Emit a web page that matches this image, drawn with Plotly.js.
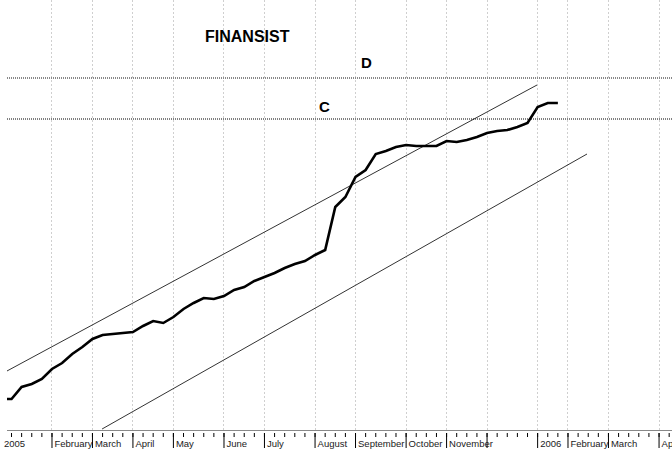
<!DOCTYPE html>
<html>
<head>
<meta charset="utf-8">
<script src="https://cdn.plot.ly/plotly-3.0.1.min.js"></script>
<style>html,body{margin:0;padding:0;background:#fff;}#chart{width:672px;height:451px;}</style>
</head>
<body>
<div id="chart"></div>
<script>
// Weekly index (0 = first week of January 2005)
const weeks = [0,1,2,3,4,5,6,7,8,9,10,11,12,13,14,15,16,17,18,19,20,21,22,23,24,25,26,27,28,29,30,31,32,33,34,35,36,37,38,39,40,41,42,43,44,45,46,47,48,49,50,51,52,53,54,55];
const price = [13.1,13.1,14.3,14.6,15.1,16.1,16.7,17.6,18.3,19.1,19.5,19.6,19.7,19.8,20.4,20.9,20.7,21.3,22.1,22.7,23.2,23.1,23.4,24.0,24.3,24.9,25.3,25.7,26.2,26.6,26.9,27.5,28.0,32.3,33.3,35.3,36.0,37.6,37.9,38.3,38.5,38.4,38.4,38.4,38.9,38.8,39.0,39.3,39.7,39.9,40.0,40.3,40.7,42.3,42.7,42.7];

// Calendar weeks shown on the axis (weekly small ticks)
const axisWeeks = [1,2,3,4,5,6,7,8,9,10,11,12,13,14,15,16,17,18,19,20,21,22,23,24,25,26,27,28,29,30,31,32,33,34,35,36,37,38,39,40,41,42,43,44,45,46,47,48,49,50,51,52,53,54,55,56,57,58,59,60,61,62,63,64,65,66];

// Month ticks (week index of each month start) and labels
const monthWeeks = [5,9,13,17,22,26,31,35,40,44,48,53,56,60,65];
const monthLabels = ['February','March','April','May','June','July','August','September','October','November','','2006','February','March','April'];

// Trend channel lines
const upperX = [0.55, 52.94];
const upperY = [15.9, 44.5];
const lowerX = [9.95, 57.88];
const lowerY = [10.1, 37.6];

// Horizontal levels
const levelNames = ['D','C'];
const levelValues = [45.2, 41.1];
const levelLabelWeeks = [36.1, 31.9];

const xRange = [0.5535, 66.28];
const yRange = [10, 53];

const traces = [
  {x: upperX, y: upperY, mode:'lines', line:{color:'#333', width:1}, hoverinfo:'skip'},
  {x: lowerX, y: lowerY, mode:'lines', line:{color:'#333', width:1}, hoverinfo:'skip'},
  {x: weeks, y: price, mode:'lines', line:{color:'#000', width:2.6}, name:'FINANSIST'},
  {x: weeks.slice(1), y: weeks.slice(1).map(()=>yRange[0]-0.2), mode:'markers', cliponaxis:false,
   marker:{symbol:'square', size:3, color:'#7070ff', line:{width:0}}, hoverinfo:'skip'}
];

const shapes = [];
levelValues.forEach((v,i)=>{
  shapes.push({type:'line', xref:'paper', x0:0, x1:1, yref:'y', y0:v, y1:v,
    line:{color: i===0 ? '#888' : '#000', width: i===0 ? 2 : 1, dash:'1px,1px'}});
});
axisWeeks.forEach(w=>{
  shapes.push({type:'line', xref:'x', x0:w, x1:w, yref:'paper', ysizemode:'pixel', yanchor:0,
    y0:-3, y1:-7, line:{color:'#000', width:1}});
});
monthWeeks.forEach(w=>{
  shapes.push({type:'line', xref:'x', x0:w, x1:w, yref:'paper', ysizemode:'pixel', yanchor:0,
    y0:-3, y1:-18, line:{color:'#000', width:1}});
});

const annotations = [
  {text:'<b>FINANSIST</b>', xref:'paper', yref:'paper', x:0.3617, y:0.9395, showarrow:false,
   font:{family:'Liberation Sans, Arial, sans-serif', size:16, color:'#000'}},
  {text:'2005', xref:'paper', yref:'paper', x:-0.0075, y:0, yanchor:'top', xanchor:'left', yshift:-6, showarrow:false,
   font:{family:'Liberation Sans, Arial, sans-serif', size:9.5, color:'#222'}}
];
levelNames.forEach((n,i)=>{
  annotations.push({text:'<b>'+n+'</b>', xref:'x', yref:'y', x:levelLabelWeeks[i], y:levelValues[i],
    yanchor:'bottom', yshift: i===0 ? 5 : 2, showarrow:false,
    font:{family:'Liberation Sans, Arial, sans-serif', size:15, color:'#000'}});
});

const layout = {
  width:672, height:451,
  margin:{l:7, r:0, t:0, b:21},
  paper_bgcolor:'#fff', plot_bgcolor:'#fff',
  showlegend:false,
  xaxis:{
    range:xRange, automargin:false, zeroline:false,
    tickmode:'array', tickvals:monthWeeks, ticktext:monthLabels,
    ticks:'', ticklen:0, tickangle:0,
    ticklabelposition:'outside right', ticklabelstandoff:5, ticklabelshift:2,
    ticklabeloverflow:'allow',
    tickfont:{family:'Liberation Sans, Arial, sans-serif', size:9.5, color:'#1a1a1a'},
    showgrid:true, gridcolor:'#cfcfcf', griddash:'2px,2px', gridwidth:1,
    showline:true, linecolor:'#888', linewidth:1
  },
  yaxis:{range:yRange, visible:false, showgrid:false, zeroline:false, fixedrange:true},
  shapes:shapes,
  annotations:annotations
};

Plotly.newPlot('chart', traces, layout, {displayModeBar:false, staticPlot:true});
</script>
</body>
</html>
